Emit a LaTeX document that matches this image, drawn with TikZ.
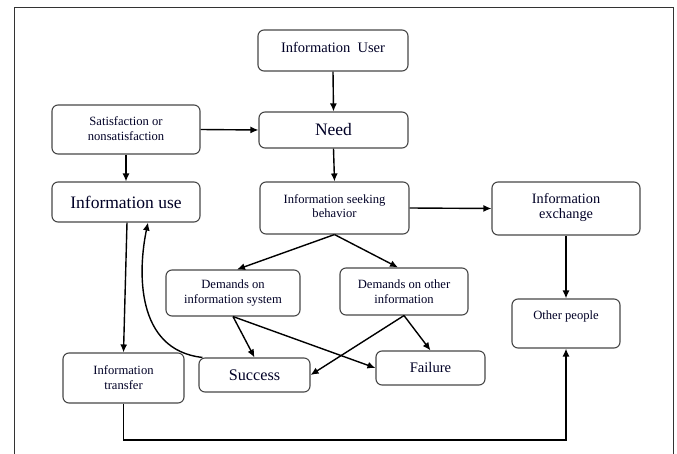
\documentclass[tikz,border=0pt]{standalone}
\usepackage{fontspec}
\setmainfont{Liberation Serif}
\usetikzlibrary{arrows.meta}
\begin{document}
\begin{tikzpicture}[x=1pt,y=-1pt,
 box/.style={draw=black!72, line width=1.1pt, rounded corners=6pt, inner sep=0pt, fill=white},
 lbl/.style={align=center, inner sep=0pt, text=black!85!blue},
 small/.style={font=\fontsize{12.6}{14.5}\selectfont},
 arr/.style={line width=1.4pt, -{Latex[length=8pt,width=7pt]}},
 frame/.style={line width=0.9pt, draw=black!80}]
\useasboundingbox (0,0) rectangle (677,454);
\draw[frame] (14,454) -- (14,7) -- (673,7) -- (673,454);

% boxes
\node[box, minimum width=150pt, minimum height=41pt] (user) at (333,50.5) {};
\node[box, minimum width=149pt, minimum height=36pt] (need) at (333.5,130) {};
\node[box, minimum width=148pt, minimum height=49pt] (sat) at (126,129.5) {};
\node[box, minimum width=148pt, minimum height=40pt] (use) at (126,202) {};
\node[box, minimum width=149pt, minimum height=52pt] (isb) at (334.5,208) {};
\node[box, minimum width=148pt, minimum height=53pt] (exch) at (566,208.5) {};
\node[box, minimum width=134pt, minimum height=46pt] (dis) at (233,293) {};
\node[box, minimum width=128pt, minimum height=47pt] (doi) at (404,291.5) {};
\node[box, minimum width=108pt, minimum height=49pt] (other) at (566,323.5) {};
\node[box, minimum width=109pt, minimum height=34pt] (fail) at (430.5,368) {};
\node[box, minimum width=111pt, minimum height=34pt] (succ) at (254.5,375) {};
\node[box, minimum width=121pt, minimum height=50pt] (trans) at (123.5,378) {};

% labels
\node[lbl, font=\fontsize{14.5}{17}\selectfont] (usert) at (333,47) {Information\ \ User};
\node[lbl, font=\fontsize{17.5}{20}\selectfont] (needt) at (333.5,130) {Need};
\node[lbl, small] (satt) at (126,128.5) {Satisfaction or\\nonsatisfaction};
\node[lbl, font=\fontsize{17.5}{20}\selectfont] (uset) at (126,202) {Information use};
\node[lbl, small] (isbt) at (334.5,206) {Information seeking\\behavior};
\node[lbl, font=\fontsize{14.3}{15.5}\selectfont] (excht) at (566,207.5) {Information\\exchange};
\node[lbl, small] (dist) at (233,293) {Demands on\\information system};
\node[lbl, small] (doit) at (404,291.5) {Demands on other\\information};
\node[lbl, small] (othert) at (566,316) {Other people};
\node[lbl, font=\fontsize{14.6}{17}\selectfont] (failt) at (430.5,367.7) {Failure};
\node[lbl, font=\fontsize{16.2}{19}\selectfont] (succt) at (254.5,375.7) {Success};
\node[lbl, small] (transt) at (123.5,377.5) {Information\\transfer};

% connectors
\draw[arr] (user.south) -- (need.north);
\draw[arr] (need.south) -- (isb.north);
\draw[arr] (sat.east) -- (need.west);
\draw[arr] (sat.south) -- (use.north);
\draw[arr] (isb.east) -- (exch.west);
\draw[arr] (exch.south) -- (other.north);
\draw[arr] (isb.south) -- ([xshift=4pt]dis.north);
\draw[arr] (isb.south) -- ([xshift=-6pt]doi.north);
\draw[arr] (dis.south) -- (succ.north);
\draw[arr] (dis.south) -- (fail.west);
\draw[arr] (doi.south) -- (fail.north);
\draw[arr] (doi.south) -- (succ.east);
\draw[arr] ([xshift=1pt]use.south) -- (trans.north);
\draw[arr] ([xshift=4pt]succ.north west) .. controls (135,350) and (138,270) .. ([xshift=22pt]use.south);
\coordinate (bend) at (123.5,440);
\draw[arr] (trans.south) -- (bend) -| (other.south);
\end{tikzpicture}
\end{document}
